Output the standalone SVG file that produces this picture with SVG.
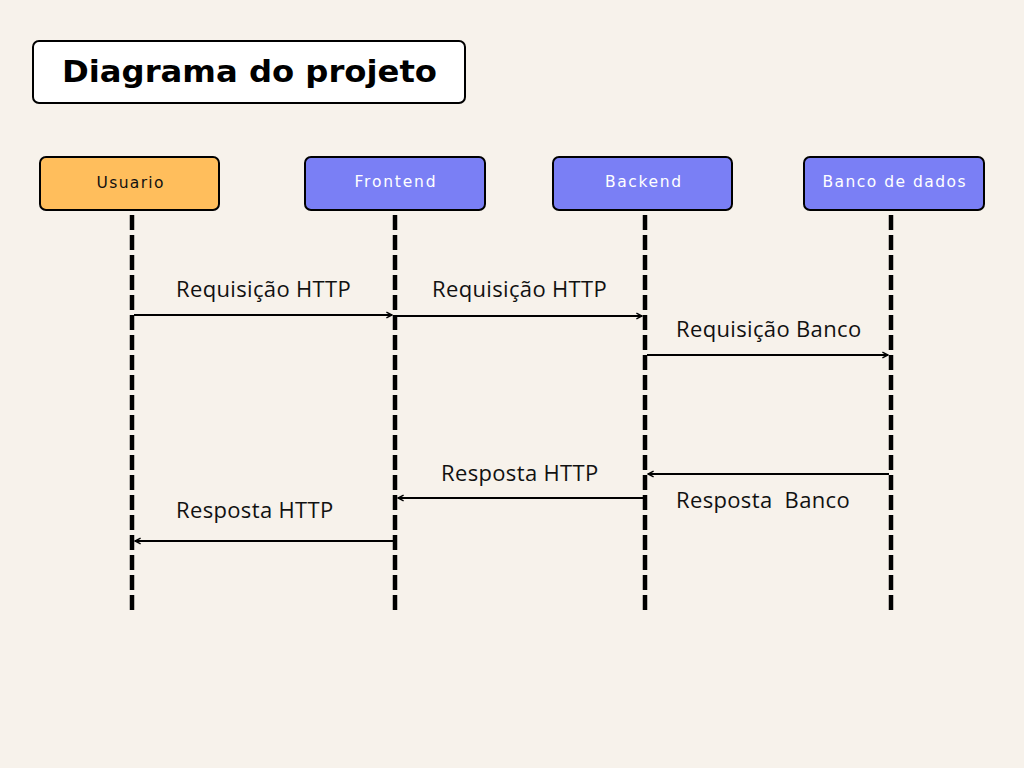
<svg xmlns="http://www.w3.org/2000/svg" width="1024" height="768" viewBox="0 0 1024 768">
<defs>
<style>
.node rect{stroke:#000;stroke-width:2}
.nl{font-family:"DejaVu Sans","Noto Sans",sans-serif;font-size:15.5px;text-anchor:middle}
.life{stroke:#000;stroke-width:4.5;stroke-dasharray:15 5}
.msg{stroke:#000;stroke-width:1.8;fill:none;marker-end:url(#arr)}
.ml{font-family:"Open Sans","Noto Sans",sans-serif;font-size:22px;letter-spacing:0.35px;fill:#111}
</style>
<marker id="arr" viewBox="0 0 10 10" refX="9" refY="5" markerWidth="8" markerHeight="8" markerUnits="userSpaceOnUse" orient="auto"><polyline points="2,1.5 9,5 2,8.5" fill="none" stroke="#000" stroke-width="1.8"/></marker>
</defs>
<rect width="1024" height="768" fill="#f7f2eb"/>
<g id="title">
<rect x="33" y="41" width="432" height="62" rx="6" fill="#fff" stroke="#000" stroke-width="2"/>
<text x="62" y="82" font-family="'DejaVu Sans',sans-serif" font-weight="bold" font-size="30" textLength="375" lengthAdjust="spacingAndGlyphs">Diagrama do projeto</text>
</g>
<g id="lifelines">
<line class="life" x1="132" y1="215" x2="132" y2="610"/>
<line class="life" x1="395" y1="215" x2="395" y2="610"/>
<line class="life" x1="645" y1="215" x2="645" y2="610"/>
<line class="life" x1="891" y1="215" x2="891" y2="610"/>
</g>
<g id="node-usuario" class="node">
<rect x="40" y="157" width="179" height="53" rx="6" fill="#ffbe5c"/>
<text class="nl" x="130" y="188" fill="#111" textLength="67">Usuario</text>
</g>
<g id="node-frontend" class="node">
<rect x="305" y="157" width="180" height="53" rx="6" fill="#7a7ff5"/>
<text class="nl" x="395" y="187" fill="#fff" textLength="81">Frontend</text>
</g>
<g id="node-backend" class="node">
<rect x="553" y="157" width="179" height="53" rx="6" fill="#7a7ff5"/>
<text class="nl" x="643" y="187" fill="#fff" textLength="76">Backend</text>
</g>
<g id="node-banco" class="node">
<rect x="804" y="157" width="180" height="53" rx="6" fill="#7a7ff5"/>
<text class="nl" x="894" y="187" fill="#fff" textLength="143">Banco de dados</text>
</g>
<g id="connectors">
<line class="msg" x1="134" y1="315" x2="392" y2="315"/>
<line class="msg" x1="397" y1="316" x2="642" y2="316"/>
<line class="msg" x1="647" y1="355" x2="888" y2="355"/>
<line class="msg" x1="889" y1="474" x2="648" y2="474"/>
<line class="msg" x1="643" y1="498" x2="398" y2="498"/>
<line class="msg" x1="393" y1="541" x2="135" y2="541"/>
</g>
<g id="labels">
<text class="ml" x="176" y="297">Requisição HTTP</text>
<text class="ml" x="432" y="297">Requisição HTTP</text>
<text class="ml" x="676" y="337">Requisição Banco</text>
<text class="ml" x="441" y="481">Resposta HTTP</text>
<text class="ml" x="676" y="508" xml:space="preserve">Resposta  Banco</text>
<text class="ml" x="176" y="518">Resposta HTTP</text>
</g>
</svg>
